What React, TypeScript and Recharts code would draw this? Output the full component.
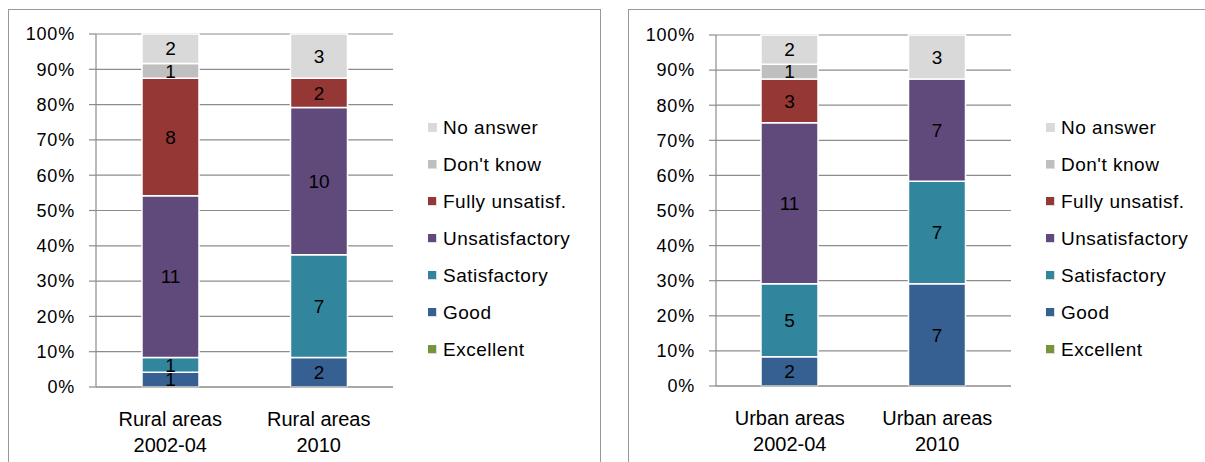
import { BarChart, Bar, XAxis, YAxis, CartesianGrid, LabelList } from "recharts";

const seriesNames = ["Excellent", "Good", "Satisfactory", "Unsatisfactory", "Fully unsatisf.", "Don't know", "No answer"];
const seriesColors = ["#77933C", "#376092", "#31859C", "#604A7B", "#953735", "#BFBFBF", "#D9D9D9"];

const ruralLabels = [["Rural areas", "2002-04"], ["Rural areas", "2010"]];
const ruralValues = [
  [0, 0], // Excellent
  [1, 2], // Good
  [1, 7], // Satisfactory
  [11, 10], // Unsatisfactory
  [8, 2], // Fully unsatisf.
  [1, 0], // Don't know
  [2, 3], // No answer
];

const urbanLabels = [["Urban areas", "2002-04"], ["Urban areas", "2010"]];
const urbanValues = [
  [0, 0],
  [2, 7],
  [5, 7],
  [11, 7],
  [3, 0],
  [1, 0],
  [2, 3],
];

const percentTicks = [0, 0.1, 0.2, 0.3, 0.4, 0.5, 0.6, 0.7, 0.8, 0.9, 1];
const boundaryTicks = [0, 1, 2];

const FONT = "'Liberation Sans', Arial, sans-serif";
const GRID = "#8c8c8c";

function buildRows(labels: string[][], values: number[][]) {
  return labels.map((lines, i) => {
    const row: Record<string, any> = { name: lines.join(" "), lines };
    seriesNames.forEach((s, k) => {
      row[s] = values[k][i];
    });
    return row;
  });
}

function CategoryTick(props: any) {
  const { x, y, payload, rows } = props;
  const row = rows.find((r: any) => r.name === payload.value);
  const lines = row ? row.lines : [payload.value];
  return (
    <text x={x} y={y} textAnchor="middle" fontFamily={FONT} fontSize={20} fill="#000">
      <tspan x={x} dy={37}>{lines[0]}</tspan>
      <tspan x={x} dy={26}>{lines[1]}</tspan>
    </text>
  );
}

function LegendBox({ left }: { left: number }) {
  const items = seriesNames.map((s, k) => ({ name: s, color: seriesColors[k] })).reverse();
  return (
    <div style={{ position: "absolute", left, top: 109, fontFamily: FONT, fontSize: 19, color: "#000" }}>
      {items.map((p) => (
        <div key={p.name} style={{ height: 37, display: "flex", alignItems: "center" }}>
          <span
            style={{
              display: "inline-block",
              width: 8,
              height: 8,
              background: p.color,
              borderRight: "1px solid #ddd",
              borderBottom: "1px solid #ddd",
              marginRight: 6,
            }}
          />
          <span style={{ letterSpacing: 0.5, whiteSpace: "nowrap" }}>{p.name}</span>
        </div>
      ))}
    </div>
  );
}

interface PanelProps {
  labels: string[][];
  values: number[][];
  left: number;
  width: number;
  top: number;
  rightMargin: number;
  bottomHeight: number;
  legendLeft: number;
}

function Panel({ labels, values, left, width, top, rightMargin, bottomHeight, legendLeft }: PanelProps) {
  const rows = buildRows(labels, values);
  return (
    <div style={{ position: "absolute", left, top: 0, width, height: 462 }}>
      <BarChart
        width={width}
        height={462}
        data={rows}
        stackOffset="expand"
        barSize={57}
        margin={{ top, right: rightMargin, bottom: 0, left: 0 }}
      >
        <CartesianGrid vertical={false} stroke={GRID} strokeWidth={1.2} />
        <XAxis
          xAxisId="edges"
          type="number"
          domain={[0, 2]}
          ticks={boundaryTicks}
          axisLine={false}
          tick={false}
          tickSize={7}
          tickLine={{ stroke: GRID, strokeWidth: 1.2 }}
          height={0}
        />
        <XAxis
          dataKey="name"
          xAxisId="cat"
          tickLine={false}
          axisLine={{ stroke: GRID, strokeWidth: 1.2 }}
          tickSize={0}
          tick={<CategoryTick rows={rows} />}
          interval={0}
          height={bottomHeight}
        />
        <YAxis
          width={96}
          domain={[0, 1]}
          ticks={percentTicks}
          tickFormatter={(v: number) => `${Math.round(v * 100)}%`}
          tickSize={7}
          tickMargin={14}
          tickLine={{ stroke: GRID, strokeWidth: 1.2 }}
          axisLine={{ stroke: GRID, strokeWidth: 1.2 }}
          tick={{ fill: "#000", fontSize: 18, fontFamily: FONT, letterSpacing: 0.8 }}
          interval={0}
        />
        {seriesNames.map((s, k) => (
          <Bar
            key={s}
            dataKey={s}
            name={s}
            xAxisId="cat"
            stackId="a"
            fill={seriesColors[k]}
            stroke="#fff"
            strokeWidth={1.5}
            isAnimationActive={false}
          >
            <LabelList
              dataKey={s}
              position="center"
              formatter={(v: any) => (v ? v : "")}
              style={{ fill: "#000", fontSize: 19, fontFamily: FONT }}
            />
          </Bar>
        ))}
      </BarChart>
      <LegendBox left={legendLeft} />
    </div>
  );
}

export default function App() {
  return (
    <div style={{ position: "absolute", left: 0, top: 0, width: 1205, height: 462, overflow: "hidden", background: "#fff" }}>
      <div style={{ position: "absolute", left: 8, top: 9, width: 591, height: 470, border: "1.5px solid #999" }} />
      <div style={{ position: "absolute", left: 628, top: 9, width: 600, height: 470, border: "1.5px solid #999" }} />
      <Panel labels={ruralLabels} values={ruralValues} left={0} width={600} top={34} rightMargin={207} bottomHeight={75} legendLeft={428} />
      <Panel labels={urbanLabels} values={urbanValues} left={620} width={585} top={35} rightMargin={194} bottomHeight={76} legendLeft={426} />
    </div>
  );
}
